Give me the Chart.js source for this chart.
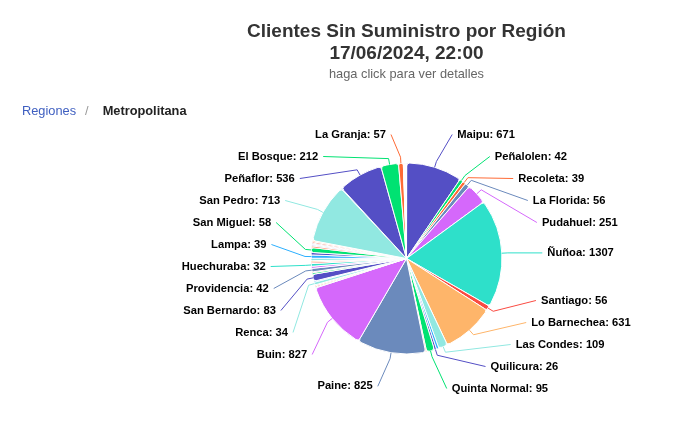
<!DOCTYPE html>
<html lang="es">
<head>
<meta charset="utf-8">
<title>Clientes Sin Suministro por Región</title>
<script src="https://cdn.jsdelivr.net/npm/chart.js@4/dist/chart.umd.min.js"></script>
<style>
  html, body { margin: 0; padding: 0; background: #fff; overflow: hidden; }
  #wrap { position: relative; width: 813px; height: 443px; font-family: "Liberation Sans", Arial, Helvetica, sans-serif; }
  #pie { position: absolute; left: 0; top: 0; }
  .title { position: absolute; left: 0; top: 20px; width: 813px; text-align: center; font-size: 19px; font-weight: bold; line-height: 22px; color: #333333; }
  .subtitle { position: absolute; left: 0; top: 66px; width: 813px; text-align: center; font-size: 12.8px; line-height: 16px; color: #666666; }
  .crumbs { position: absolute; left: 22px; top: 103px; font-size: 12.8px; line-height: 16px; color: #222222; }
  .crumbs .link { color: #3f5fc0; }
  .crumbs .sep { color: #999999; margin: 0 14px 0 9px; }
  .crumbs .current { font-weight: bold; }
</style>
</head>
<body>
<div id="wrap">
  <canvas id="pie" width="813" height="443"></canvas>
  <div class="title" id="title"></div>
  <div class="subtitle" id="subtitle"></div>
  <div class="crumbs"><span class="link" id="crumb-root"></span><span class="sep">/</span><span class="current" id="crumb-current"></span></div>
</div>
<script>
var titleLines = ['Clientes Sin Suministro por Región', '17/06/2024, 22:00'];
var subtitleText = 'haga click para ver detalles';
var crumbs = ['Regiones', 'Metropolitana'];

// comunas en el orden del gráfico (desde arriba, sentido horario); '' = etiqueta oculta en el original
var communes = [
  '', 'Maipu', 'Peñalolen', 'Recoleta', 'La Florida', 'Pudahuel', 'Ñuñoa', 'Santiago', 'Lo Barnechea', 'Las Condes',
  '', 'Quilicura', 'Quinta Normal', '', 'Paine', 'Buin', '', '', '', 'Renca',
  '', 'San Bernardo', '', '', 'Providencia', '', 'Huechuraba', '', '', '',
  'Lampa', '', 'San Miguel', '', '', '', '', '', '', 'San Pedro',
  '', 'Peñaflor', 'El Bosque', 'La Granja', '', '', '', '', '', '',
  '', ''
];
var clientes = [
  3, 671, 42, 39, 56, 251, 1307, 56, 631, 109,
  30, 26, 95, 12, 825, 827, 10, 14, 12, 34,
  12, 83, 20, 10, 42, 25, 32, 18, 16, 30,
  39, 30, 58, 20, 12, 10, 12, 16, 14, 713,
  8, 536, 212, 57, 5, 4, 6, 3, 5, 4,
  6, 5
];

var palette = ['#2caffe', '#544fc5', '#00e272', '#fe6a35', '#6b8abc', '#d568fb', '#2ee0ca', '#fa4b42', '#feb56a', '#91e8e1'];
var sliceColors = clientes.map(function(_, i) { return palette[i % palette.length]; });

document.getElementById('title').innerHTML = titleLines.join('<br>');
document.getElementById('subtitle').textContent = subtitleText;
document.getElementById('crumb-root').textContent = crumbs[0];
document.getElementById('crumb-current').textContent = crumbs[1];

// spread labels on one side so they don't overlap (groups centred on their natural y)
function distribute(list, top, bottom, h) {
  list.sort(function(a, b) { return a.natY - b.natY; });
  var groups = list.map(function(it) { return { items: [it], pos: 0 }; });
  function place(g) {
    var n = g.items.length;
    var mean = g.items.reduce(function(s, it) { return s + it.natY; }, 0) / n;
    g.pos = Math.min(Math.max(mean - (n - 1) * h / 2, top), bottom - (n - 1) * h);
  }
  groups.forEach(place);
  var merged = true;
  while (merged) {
    merged = false;
    for (var k = 1; k < groups.length; k++) {
      var a = groups[k - 1], b = groups[k];
      if (a.pos + a.items.length * h > b.pos + 0.01) {
        a.items = a.items.concat(b.items);
        place(a);
        groups.splice(k, 1);
        merged = true;
        break;
      }
    }
  }
  groups.forEach(function(g) {
    g.items.forEach(function(it, j) { it.y = g.pos + j * h; });
  });
}

var pieLabels = {
  id: 'pieLabels',
  afterDatasetsDraw: function(chart) {
    var arcs = chart.getDatasetMeta(0).data;
    if (!arcs.length) return;
    var ctx = chart.ctx;
    var cx = arcs[0].x, cy = arcs[0].y, r = arcs[0].outerRadius;
    var R = r + 32.5;
    var items = [];
    arcs.forEach(function(arc, i) {
      if (!communes[i]) return;
      var mid = (arc.startAngle + arc.endAngle) / 2;
      var c = Math.cos(mid), s = Math.sin(mid);
      items.push({ i: i, c: c, s: s, left: c < 0, natY: cy + R * s });
    });
    var top = cy - 125.5, bottom = cy + 128.5;
    distribute(items.filter(function(it) { return it.left; }), top, bottom, 22);
    distribute(items.filter(function(it) { return !it.left; }), top, bottom, 22);

    ctx.save();
    ctx.font = 'bold 11.2px "Liberation Sans", Arial, sans-serif';
    ctx.textBaseline = 'middle';
    items.forEach(function(it) {
      var sign = it.left ? -1 : 1;
      var yx = Math.abs(it.y - cy) > 120 ? it.natY : it.y;
      var dy = Math.max(-R, Math.min(R, yx - cy));
      var dx = Math.sqrt(R * R - dy * dy);
      var ly = it.y + 1.5;
      ctx.strokeStyle = sliceColors[it.i];
      ctx.lineWidth = 1;
      ctx.beginPath();
      ctx.moveTo(cx + sign * (dx + 8), ly);
      ctx.lineTo(cx + it.c * (r + 6), cy + it.s * (r + 6));
      ctx.lineTo(cx + it.c * r, cy + it.s * r);
      ctx.stroke();
      ctx.fillStyle = '#000000';
      ctx.textAlign = it.left ? 'right' : 'left';
      ctx.fillText(communes[it.i] + ': ' + clientes[it.i], cx + sign * (dx + 13), ly);
    });
    ctx.restore();
  }
};

new Chart(document.getElementById('pie'), {
  type: 'pie',
  data: {
    labels: communes,
    datasets: [{
      data: clientes,
      backgroundColor: sliceColors,
      borderColor: '#ffffff',
      borderWidth: 1,
      borderRadius: 3,
      hoverOffset: 0
    }]
  },
  options: {
    responsive: false,
    animation: false,
    radius: 95.5,
    layout: { padding: { top: 120, bottom: 46, left: 0, right: 0 } },
    plugins: { legend: { display: false }, tooltip: { enabled: false } }
  },
  plugins: [pieLabels]
});
</script>
</body>
</html>
